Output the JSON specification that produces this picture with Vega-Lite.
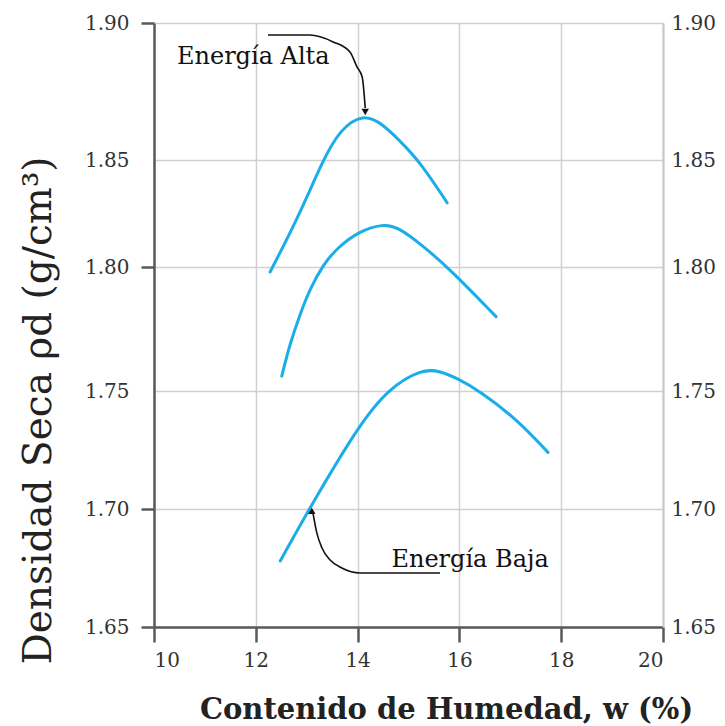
{
  "$schema": "https://vega.github.io/schema/vega-lite/v6.json",
  "width": 509,
  "height": 604,
  "autosize": {"type": "none"},
  "padding": {"left": 154, "top": 23, "right": 62, "bottom": 99},
  "background": "white",
  "config": {
    "view": {"stroke": null},
    "font": "DejaVu Serif"
  },
  "datasets": {
    "curves": [
      {"curve": "alta", "w": 12.28, "rho": 1.798},
      {"curve": "alta", "w": 12.81, "rho": 1.822},
      {"curve": "alta", "w": 13.32, "rho": 1.850},
      {"curve": "alta", "w": 13.65, "rho": 1.861},
      {"curve": "alta", "w": 14.11, "rho": 1.867},
      {"curve": "alta", "w": 14.50, "rho": 1.863},
      {"curve": "alta", "w": 14.83, "rho": 1.857},
      {"curve": "alta", "w": 15.23, "rho": 1.849},
      {"curve": "alta", "w": 15.76, "rho": 1.830},
      {"curve": "media", "w": 12.51, "rho": 1.756},
      {"curve": "media", "w": 12.67, "rho": 1.769},
      {"curve": "media", "w": 12.87, "rho": 1.781},
      {"curve": "media", "w": 13.06, "rho": 1.791},
      {"curve": "media", "w": 13.32, "rho": 1.801},
      {"curve": "media", "w": 13.60, "rho": 1.809},
      {"curve": "media", "w": 14.05, "rho": 1.817},
      {"curve": "media", "w": 14.50, "rho": 1.820},
      {"curve": "media", "w": 14.77, "rho": 1.819},
      {"curve": "media", "w": 15.28, "rho": 1.810},
      {"curve": "media", "w": 15.82, "rho": 1.799},
      {"curve": "media", "w": 16.72, "rho": 1.780},
      {"curve": "baja", "w": 12.48, "rho": 1.678},
      {"curve": "baja", "w": 13.10, "rho": 1.702},
      {"curve": "baja", "w": 14.01, "rho": 1.735},
      {"curve": "baja", "w": 14.60, "rho": 1.751},
      {"curve": "baja", "w": 15.28, "rho": 1.759},
      {"curve": "baja", "w": 15.62, "rho": 1.758},
      {"curve": "baja", "w": 15.97, "rho": 1.755},
      {"curve": "baja", "w": 16.40, "rho": 1.750},
      {"curve": "baja", "w": 17.13, "rho": 1.738},
      {"curve": "baja", "w": 17.74, "rho": 1.724}
    ],
    "arrows": [
      {"arrow": "alta", "w": 12.24, "rho": 1.8956},
      {"arrow": "alta", "w": 13.06, "rho": 1.8956},
      {"arrow": "alta", "w": 13.52, "rho": 1.8931},
      {"arrow": "alta", "w": 13.85, "rho": 1.8894},
      {"arrow": "alta", "w": 13.99, "rho": 1.8839},
      {"arrow": "alta", "w": 14.09, "rho": 1.8803},
      {"arrow": "alta", "w": 14.15, "rho": 1.8690},
      {"arrow": "baja", "w": 13.12, "rho": 1.6987},
      {"arrow": "baja", "w": 13.20, "rho": 1.6898},
      {"arrow": "baja", "w": 13.30, "rho": 1.6835},
      {"arrow": "baja", "w": 13.46, "rho": 1.6784},
      {"arrow": "baja", "w": 13.69, "rho": 1.6750},
      {"arrow": "baja", "w": 14.05, "rho": 1.6729},
      {"arrow": "baja", "w": 15.62, "rho": 1.6729}
    ],
    "heads": [
      {"head": "alta", "w": 14.15, "rho": 1.8675, "shape": "triangle-down"},
      {"head": "baja", "w": 13.10, "rho": 1.6992, "shape": "triangle-up"}
    ],
    "labels": [
      {"text": "Energía Alta", "w": 11.95, "rho": 1.8876},
      {"text": "Energía Baja", "w": 16.21, "rho": 1.6784}
    ]
  },
  "resolve": {"scale": {"y": "independent"}, "axis": {"y": "independent"}},
  "layer": [
    {
      "data": {"name": "curves"},
      "mark": {"type": "line", "interpolate": "basis", "stroke": "#1aaee8", "strokeWidth": 3, "strokeCap": "round"},
      "encoding": {
        "x": {
          "field": "w", "type": "quantitative",
          "scale": {"domain": [10, 20], "nice": false, "zero": false},
          "axis": {
            "values": [10, 12, 14, 16, 18, 20],
            "title": "Contenido de Humedad, w (%)",
            "titleFont": "DejaVu Serif", "titleFontSize": 29, "titleFontWeight": "bold", "titleColor": "#222",
            "titleX": 292, "titleY": 82, "titleBaseline": "middle", "titleAlign": "center",
            "labelFont": "DejaVu Serif", "labelFontSize": 20, "labelColor": "#333", "labelPadding": 8,
            "tickSize": 15, "tickWidth": 2.5, "tickColor": "#5a5a5a",
            "domainColor": "#5a5a5a", "domainWidth": 2.5,
            "grid": true, "gridColor": "#d0d0d0", "gridWidth": 1.5
          }
        },
        "y": {
          "field": "rho", "type": "quantitative",
          "scale": {"domain": [1.65, 1.70, 1.75, 1.80, 1.85, 1.90], "range": [604, 486, 368, 244, 137, 0], "zero": false, "nice": false},
          "axis": {
            "orient": "left",
            "values": [1.65, 1.70, 1.75, 1.80, 1.85, 1.90],
            "format": ".2f",
            "title": "Densidad Seca ρd (g/cm³)",
            "titleFont": "DejaVu Serif", "titleFontSize": 39, "titleFontWeight": "normal", "titleColor": "#222",
            "titleAngle": -90, "titleX": -116, "titleY": 387, "titleBaseline": "middle", "titleAlign": "center",
            "labelFont": "DejaVu Serif", "labelFontSize": 20, "labelColor": "#333", "labelPadding": 12,
            "tickSize": 13, "tickWidth": 2.5,
            "tickColor": {"condition": {"test": "abs(datum.value - 1.85) < 0.001 || abs(datum.value - 1.75) < 0.001", "value": "transparent"}, "value": "#5a5a5a"},
            "domainColor": "#5a5a5a", "domainWidth": 2.5,
            "grid": true, "gridColor": "#d0d0d0", "gridWidth": 1.5
          }
        },
        "detail": {"field": "curve"}
      }
    },
    {
      "data": {"name": "arrows"},
      "mark": {"type": "line", "interpolate": "monotone", "stroke": "#111", "strokeWidth": 1.6},
      "encoding": {
        "x": {"field": "w", "type": "quantitative", "scale": {"domain": [10, 20], "nice": false, "zero": false}},
        "y": {
          "field": "rho", "type": "quantitative",
          "scale": {"domain": [1.65, 1.70, 1.75, 1.80, 1.85, 1.90], "range": [604, 486, 368, 244, 137, 0], "zero": false, "nice": false},
          "axis": {
            "orient": "right",
            "values": [1.65, 1.70, 1.75, 1.80, 1.85, 1.90],
            "format": ".2f",
            "title": null,
            "labelFont": "DejaVu Serif", "labelFontSize": 20, "labelColor": "#333", "labelPadding": 8,
            "ticks": false,
            "domainColor": "#c8c8c8", "domainWidth": 2,
            "grid": false
          }
        },
        "detail": {"field": "arrow"}
      }
    },
    {
      "data": {"name": "heads"},
      "mark": {"type": "point", "filled": true, "color": "#111", "size": 55, "opacity": 1},
      "encoding": {
        "x": {"field": "w", "type": "quantitative", "scale": {"domain": [10, 20], "nice": false, "zero": false}},
        "y": {
          "field": "rho", "type": "quantitative",
          "scale": {"domain": [1.65, 1.70, 1.75, 1.80, 1.85, 1.90], "range": [604, 486, 368, 244, 137, 0], "zero": false, "nice": false},
          "axis": null
        },
        "shape": {"field": "shape", "type": "nominal", "scale": null}
      }
    },
    {
      "data": {"name": "labels"},
      "mark": {"type": "text", "font": "DejaVu Serif", "fontSize": 24, "color": "#111", "align": "center", "baseline": "middle"},
      "encoding": {
        "x": {"field": "w", "type": "quantitative", "scale": {"domain": [10, 20], "nice": false, "zero": false}},
        "y": {
          "field": "rho", "type": "quantitative",
          "scale": {"domain": [1.65, 1.70, 1.75, 1.80, 1.85, 1.90], "range": [604, 486, 368, 244, 137, 0], "zero": false, "nice": false},
          "axis": null
        },
        "text": {"field": "text", "type": "nominal"}
      }
    }
  ]
}
